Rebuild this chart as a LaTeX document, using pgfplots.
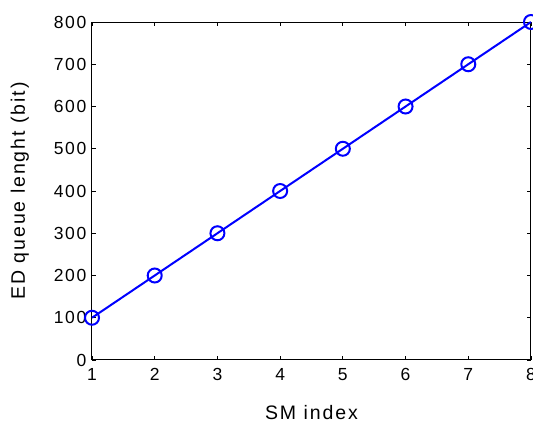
\documentclass[border=0pt]{standalone}
\usepackage{pgfplots}
\pgfplotsset{compat=1.18}
\usepackage{fontspec}
\setmainfont{Liberation Sans}[LetterSpace=10]
\newcommand\tickfont{\fontsize{17.5}{20}\selectfont}
\newcommand\labfont{\fontsize{19.5}{22}\selectfont}
\begin{document}
\begin{tikzpicture}[x=1pt,y=1pt]
\begin{axis}[
  at={(0,0)}, anchor=south west,
  scale only axis, width=439pt, height=338pt,
  xmin=1, xmax=8, ymin=0, ymax=800,
  xtick={1,...,8}, ytick={0,100,...,800},
  tick align=inside, major tick length=4pt,
  tick style={black, line width=0.8pt},
  axis line style={black, line width=1pt},
  /pgf/number format/assume math mode=true,
  tick label style={font=\tickfont},
  label style={font=\labfont},
  xticklabel style={yshift=-5pt},
  yticklabel style={xshift=-2pt},
  xlabel={SM index}, ylabel={ED queue lenght (bit)},
  xlabel style={yshift=-18pt},
  ylabel style={yshift=18pt},
  clip=false,
]
\addplot[blue, line width=2pt, mark=o, mark size=7pt, mark options={line width=2pt}]
  coordinates {(1,100) (2,200) (3,300) (4,400) (5,500) (6,600) (7,700) (8,800)};
\end{axis}
\pgfresetboundingbox
\path[use as bounding box] (-92pt,-62.5pt) rectangle (441pt,360pt);
\end{tikzpicture}
\end{document}
